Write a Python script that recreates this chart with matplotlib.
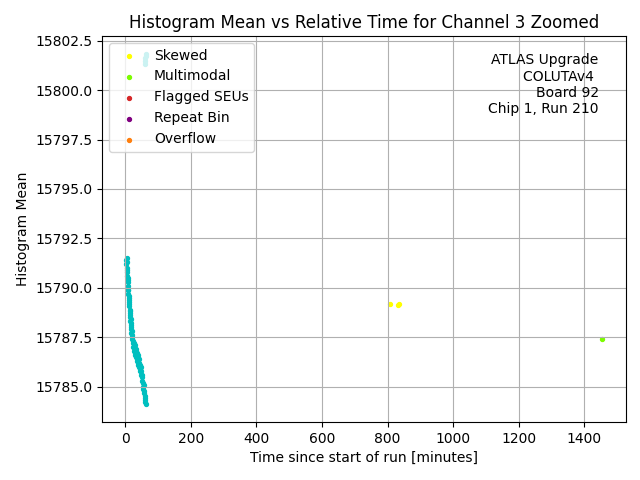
"""
Histogram mean vs relative time, channel 3 (zoomed view).
"""
import matplotlib
matplotlib.use("Agg")
import numpy as np
import matplotlib.pyplot as plt

# ── data read off the run ─────────────────────────────────────────────────────
# normal histograms (cyan)
t_normal = [2.5, 3.0, 3.5, 4.0, 4.5, 5.0, 5.5, 6.0, 6.5, 7.0,
            7.5, 8.0, 8.5, 9.0, 9.5, 10.0, 10.5, 11.0, 11.5, 12.0,
            12.5, 13.0, 13.5, 14.0, 14.5, 15.0, 15.5, 16.0, 16.5, 17.0,
            17.5, 18.0, 18.5, 19.0, 19.5, 20.0, 21.0, 22.0, 23.0, 24.0,
            25.0, 26.0, 27.0, 28.0, 29.0, 30.0, 31.0, 32.0, 33.0, 34.0,
            35.0, 36.0, 37.0, 38.0, 39.0, 40.0, 41.0, 42.0, 43.0, 44.0,
            45.0, 46.0, 47.0, 48.0, 49.0, 50.0, 51.0, 52.0, 53.0, 54.0,
            55.0, 56.0, 57.0, 58.0, 59.0, 60.0, 60.5, 61.0, 61.5,
            60.0, 60.5, 61.0, 61.5, 62.0]
mean_normal = [15791.4, 15791.2, 15791.5, 15791.0, 15790.8, 15791.3, 15790.6, 15790.9, 15790.5, 15790.3,
               15790.1, 15790.4, 15789.9, 15789.7, 15789.9, 15789.5, 15789.6, 15789.3, 15789.4, 15789.1,
               15789.2, 15788.9, 15788.7, 15788.8, 15788.5, 15788.6, 15788.3, 15788.4, 15788.1, 15788.2,
               15787.9, 15788.0, 15787.7, 15787.8, 15787.5, 15787.6, 15787.4, 15787.2, 15787.3, 15787.0,
               15787.2, 15786.8, 15787.0, 15786.6, 15787.1, 15786.7, 15786.9, 15786.5, 15786.8, 15786.4,
               15786.7, 15786.3, 15786.6, 15786.2, 15786.5, 15786.1, 15786.4, 15786.0, 15786.2, 15785.9,
               15786.1, 15785.8, 15786.0, 15785.6, 15785.8, 15785.5, 15785.6, 15785.3, 15785.2, 15785.0,
               15784.9, 15785.1, 15784.7, 15784.8, 15784.5, 15784.3, 15784.4, 15784.2, 15784.1,
               15801.3, 15801.45, 15801.6, 15801.75, 15801.85]

t_skewed = [807.0, 833.0, 835.0]
mean_skewed = [15789.2, 15789.15, 15789.2]

t_multimodal = [1455.0]
mean_multimodal = [15787.42]

# ── figure ────────────────────────────────────────────────────────────────────
fig, ax = plt.subplots(figsize=(6.4, 4.8), dpi=100)
fig.subplots_adjust(left=0.16, right=0.978, top=0.925, bottom=0.121)

ax.scatter(t_normal, mean_normal, s=8, color="c", label="_Normal")
ax.scatter(t_skewed, mean_skewed, s=8, color="yellow", label="Skewed")
ax.scatter(t_multimodal, mean_multimodal, s=8, color="lawngreen", label="Multimodal")
ax.scatter([], [], s=8, color="tab:red", label="Flagged SEUs")
ax.scatter([], [], s=8, color="purple", label="Repeat Bin")
ax.scatter([], [], s=8, color="tab:orange", label="Overflow")

ax.set_title("Histogram Mean vs Relative Time for Channel 3 Zoomed")
ax.set_xlabel("Time since start of run [minutes]")
ax.set_ylabel("Histogram Mean")
ax.grid(True)
ax.legend(loc="upper left")

ax.text(0.948, 0.955, "ATLAS Upgrade\nCOLUTAv4 \nBoard 92\nChip 1, Run 210",
        transform=ax.transAxes, ha="right", va="top", multialignment="right")

fig.savefig("out.png", dpi=100)
